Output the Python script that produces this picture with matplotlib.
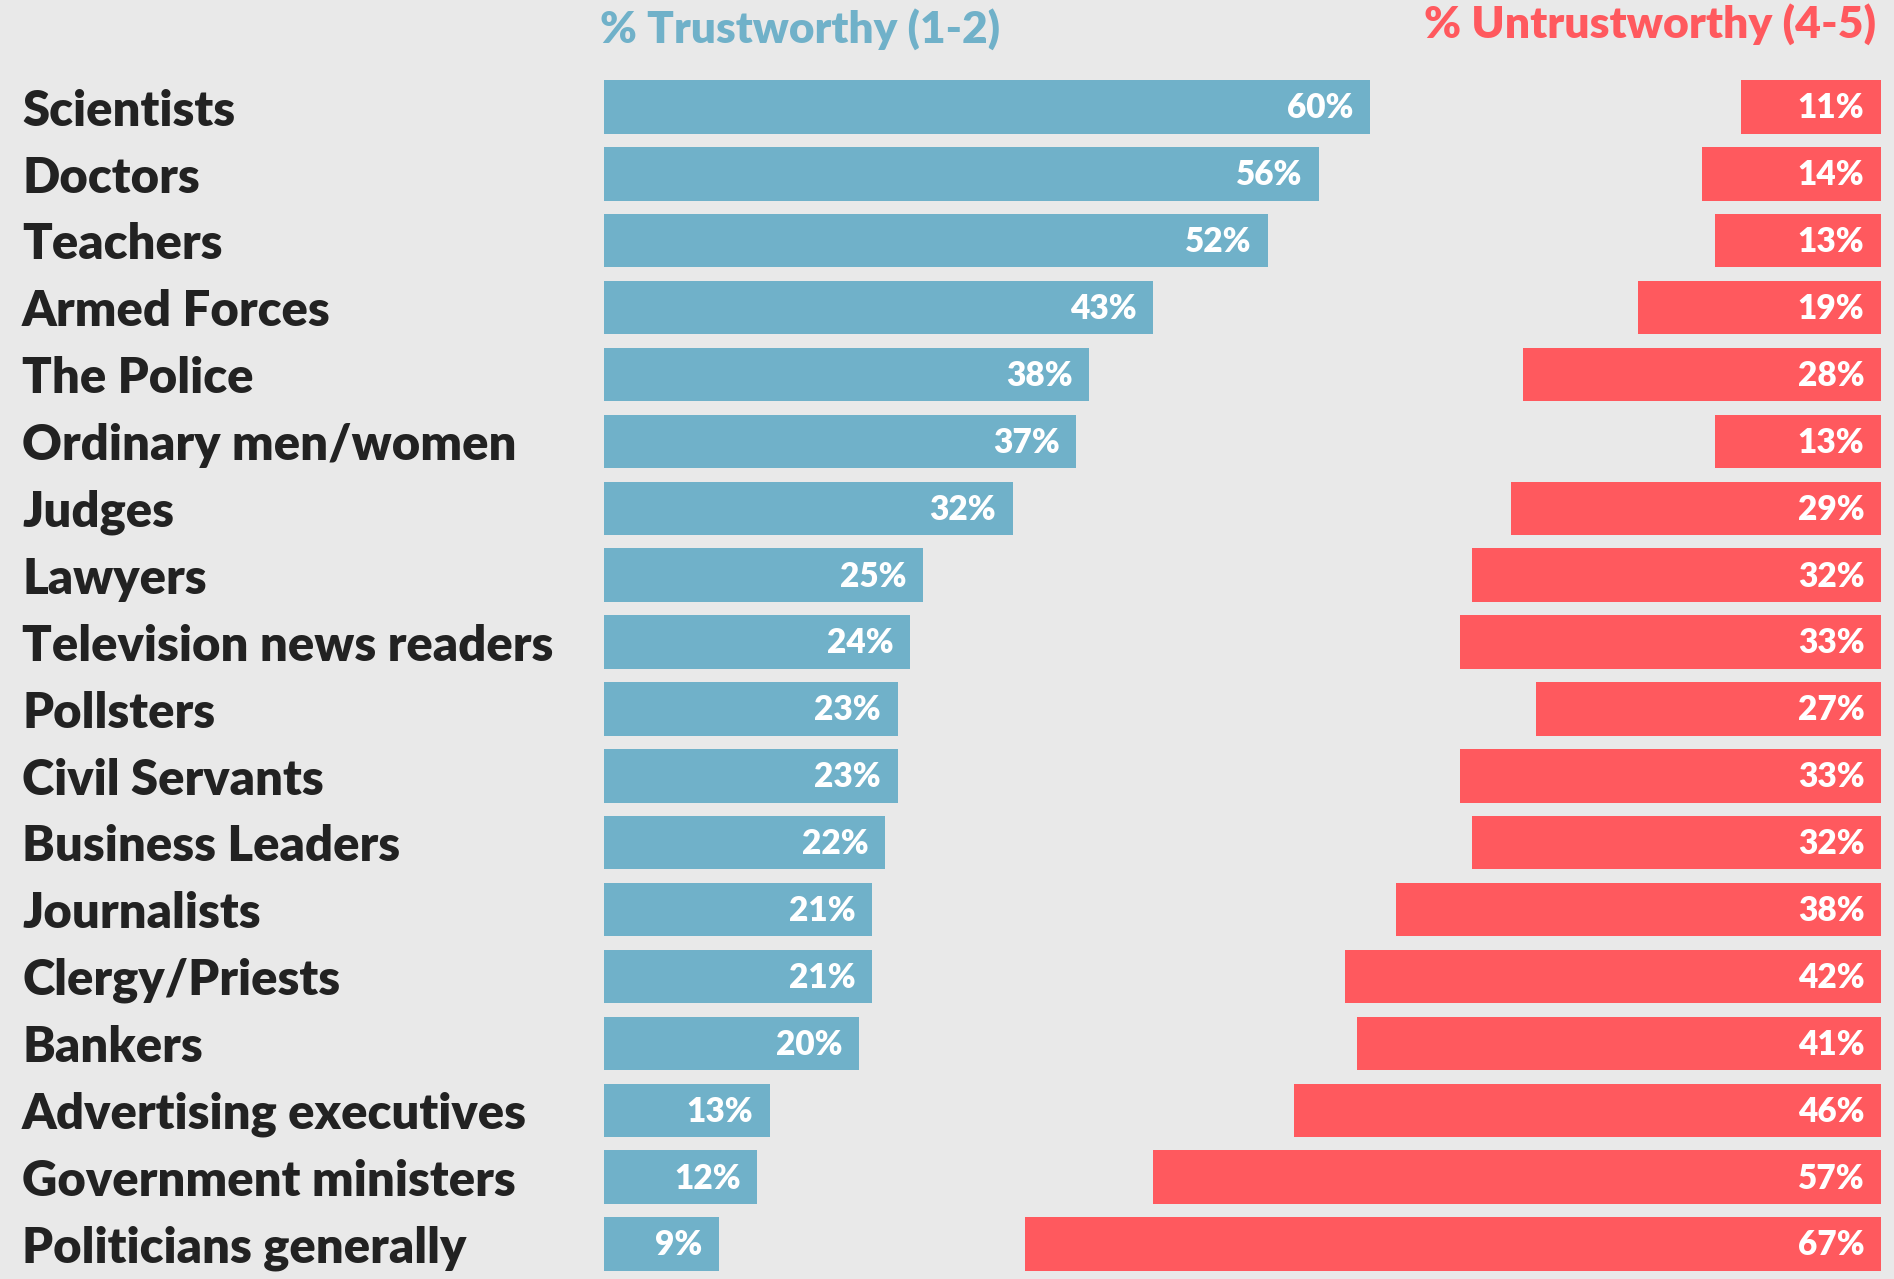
import matplotlib
matplotlib.use("Agg")
import matplotlib.pyplot as plt

categories = ["Scientists", "Doctors", "Teachers", "Armed Forces", "The Police",
              "Ordinary men/women", "Judges", "Lawyers", "Television news readers",
              "Pollsters", "Civil Servants", "Business Leaders", "Journalists",
              "Clergy/Priests", "Bankers", "Advertising executives",
              "Government ministers", "Politicians generally"]
trustworthy = [60, 56, 52, 43, 38, 37, 32, 25, 24, 23, 23, 22, 21, 21, 20, 13, 12, 9]
untrustworthy = [11, 14, 13, 19, 28, 13, 29, 32, 33, 27, 33, 32, 38, 42, 41, 46, 57, 67]
title_trust = "% Trustworthy (1-2)"
title_untrust = "% Untrustworthy (4-5)"

BLUE = "#70b1c9"
RED = "#ff595e"
BG = "#e9e9e9"
FONT = "Lato"

W, H = 1894, 1279
fig = plt.figure(figsize=(W / 100, H / 100), dpi=100, facecolor=BG)

left_px, right_px = 604, 1881
top_px, bot_px = 73.5, 1277.5
ax = fig.add_axes([left_px / W, 1 - bot_px / H, (right_px - left_px) / W, (bot_px - top_px) / H])
ax.set_facecolor(BG)
ax.patch.set_alpha(0)

n = len(categories)
ys = list(range(n))
ax.barh(ys, trustworthy, height=0.8, left=0, color=BLUE)
ax.barh(ys, untrustworthy, height=0.8, left=[100 - u for u in untrustworthy], color=RED)
ax.set_xlim(0, 100)
ax.set_ylim(n - 0.5, -0.5)
ax.axis("off")

for y, t, u in zip(ys, trustworthy, untrustworthy):
    ax.annotate(f"{t}%", (t, y), xytext=(-12, -1), textcoords="offset points",
                ha="right", va="center", color="white", fontsize=24,
                fontweight="heavy", family=FONT)
    ax.annotate(f"{u}%", (100, y), xytext=(-12, -1), textcoords="offset points",
                ha="right", va="center", color="white", fontsize=24,
                fontweight="heavy", family=FONT)
    ax.annotate(categories[y], (0, y), xycoords=("figure fraction", "data"),
                xytext=(22 * 0.72, -3), textcoords="offset points",
                ha="left", va="center", color="#222222", fontsize=35.3,
                fontweight="heavy", family=FONT)

fig.text(600 / W, 1 - 29 / H, title_trust, color=BLUE, fontsize=31.8,
         fontweight="heavy", family=FONT, ha="left", va="center")
fig.text(1876 / W, 1 - 24 / H, title_untrust, color=RED, fontsize=32,
         fontweight="heavy", family=FONT, ha="right", va="center")

fig.savefig("out.png", dpi=100, facecolor=BG)
